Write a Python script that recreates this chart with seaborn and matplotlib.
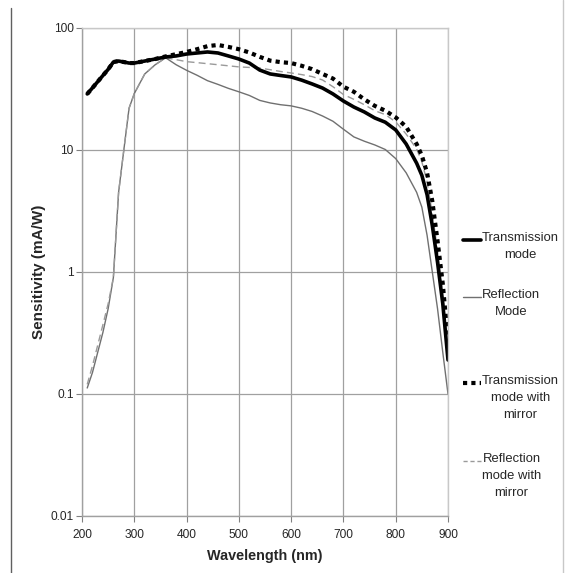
import numpy as np
import pandas as pd
import matplotlib
matplotlib.use("Agg")
import matplotlib.pyplot as plt
from matplotlib.lines import Line2D
from matplotlib.ticker import FixedLocator, FuncFormatter, NullLocator
import seaborn as sns

# --  values
wavelength = [210, 220, 240, 250, 260, 270, 280, 290, 300, 320, 340, 360, 380, 400,
              420, 440, 460, 480, 500, 520, 540, 560, 580, 600, 620, 640, 660, 680,
              700, 720, 740, 760, 780, 800, 820, 840, 850, 860, 870, 880, 890, 900]

transmission = [28.8, 32.3, 40.8, 45.8, 52.6, 53.6, 52.6, 51.6, 51.6, 53.6, 55.7, 57.9, 59.0, 61.2,
                62.4, 63.6, 62.4, 59.0, 55.7, 51.6, 45.2, 42.0, 40.8, 39.7, 37.4, 34.8, 32.2, 28.8,
                25.2, 22.5, 20.5, 18.3, 16.9, 14.6, 11.2, 7.8, 6.2, 4.3, 2.4, 1.2, 0.55, 0.19]

reflection = [0.112, 0.15, 0.32, 0.5, 0.9, 4.5, 10.0, 22.0, 29.0, 42.0, 50.0, 57.0, 50.0, 45.0,
              41.0, 37.0, 34.5, 32.0, 30.0, 28.0, 25.5, 24.3, 23.5, 23.0, 22.0, 20.7, 19.0, 17.2,
              14.8, 12.8, 11.8, 11.0, 10.1, 8.5, 6.5, 4.5, 3.4, 2.0, 1.0, 0.5, 0.22, 0.1]

transmission_mirror = [28.8, 32.3, 40.8, 45.8, 52.6, 53.6, 52.6, 51.6, 51.6, 53.6, 55.7, 58.5, 61.0, 63.6,
                       67.0, 71.0, 72.6, 70.0, 67.0, 63.0, 58.0, 54.0, 52.5, 51.6, 49.0, 46.0, 42.0, 38.5,
                       33.0, 30.0, 26.0, 23.0, 21.0, 18.5, 15.5, 11.2, 9.0, 6.5, 3.8, 1.8, 0.8, 0.27]

reflection_mirror = [0.12, 0.17, 0.37, 0.55, 0.9, 4.5, 10.0, 22.0, 29.0, 42.0, 50.0, 57.0, 55.0, 53.0,
                     52.0, 51.0, 50.0, 49.0, 48.0, 47.5, 47.0, 45.5, 44.0, 42.8, 41.5, 40.0, 37.5, 33.0,
                     28.5, 26.0, 23.5, 21.0, 19.5, 17.0, 13.5, 10.2, 8.0, 5.5, 3.0, 1.5, 0.65, 0.25]

legend_labels = ["Transmission\nmode", "Reflection\nMode",
                 "Transmission\nmode with\nmirror", "Reflection\nmode with\nmirror"]
y_ticks = [0.01, 0.1, 1, 10, 100]
x_ticks = [200, 300, 400, 500, 600, 700, 800, 900]

df = pd.DataFrame({"wl": wavelength, "T": transmission, "R": reflection,
                   "TM": transmission_mirror, "RM": reflection_mirror})

sns.set_style("whitegrid")
plt.rcParams["font.family"] = ["Liberation Sans", "DejaVu Sans"]

fig = plt.figure(figsize=(5.66, 5.73), dpi=100)
ax = fig.add_axes([82 / 566, 1 - 516 / 573, (448 - 82) / 566, (516 - 28) / 573])

#   --  draw order: thin ones first, thick ones on top
sns.lineplot(data=df, x="wl", y="R", ax=ax, color="#707070", lw=1.0)
sns.lineplot(data=df, x="wl", y="RM", ax=ax, color="#9a9a9a", lw=1.0, linestyle=(0, (5, 3)))
sns.lineplot(data=df, x="wl", y="TM", ax=ax, color="black", lw=3.0, linestyle=(0, (1, 1)))
sns.lineplot(data=df, x="wl", y="T", ax=ax, color="black", lw=2.6)

ax.set_yscale("log")
ax.set_ylim(0.01, 100)
ax.set_xlim(200, 900)
ax.xaxis.set_major_locator(FixedLocator(x_ticks))
ax.yaxis.set_major_locator(FixedLocator(y_ticks))
ax.yaxis.set_minor_locator(NullLocator())
ax.yaxis.set_major_formatter(FuncFormatter(lambda v, p: f"{v:g}"))

ax.grid(True, color="#a0a0a0", lw=0.9)
for name, sp in ax.spines.items():
    sp.set_visible(True)
    sp.set_linewidth(1.0)
    sp.set_color("#a0a0a0" if name in ("left", "bottom") else "#c8c8c8")

ax.tick_params(axis="both", which="major", length=4, width=0.8, color="#808080",
               labelsize=8.6, pad=2, direction="out", left=True, bottom=True)
ax.tick_params(axis="x", pad=5)
ax.set_xlabel("Wavelength (nm)", fontsize=10.4, fontweight="bold", labelpad=6)
ax.set_ylabel("Sensitivity (mA/W)", fontsize=11, fontweight="bold", labelpad=3)

#   --  legend drawn Excel-style to the right of the plot
styles = [dict(color="black", lw=2.6, ls="-"),
          dict(color="#707070", lw=1.0, ls="-"),
          dict(color="black", lw=3.0, ls=(0, (1, 1))),
          dict(color="#9a9a9a", lw=1.0, ls=(0, (3, 2)))]
first_line_y = [240, 297, 383, 461]
for lab, st, yy in zip(legend_labels, styles, first_line_y):
    fig.add_artist(Line2D([463 / 566, 481 / 566], [1 - yy / 573] * 2,
                          transform=fig.transFigure, **st))
    fig.text(482 / 566, 1 - (yy - 8) / 573, lab, ha="left", va="top",
             multialignment="center", fontsize=9.4, linespacing=1.55)

#   --  frame lines of the original page
fig.add_artist(Line2D([10.5 / 566] * 2, [0, 1 - 8 / 573], transform=fig.transFigure,
                      color="#606060", lw=1.0))
fig.add_artist(Line2D([563 / 566] * 2, [0, 1], transform=fig.transFigure,
                      color="#c8c8c8", lw=1.0))

fig.savefig("out.png", dpi=100)
